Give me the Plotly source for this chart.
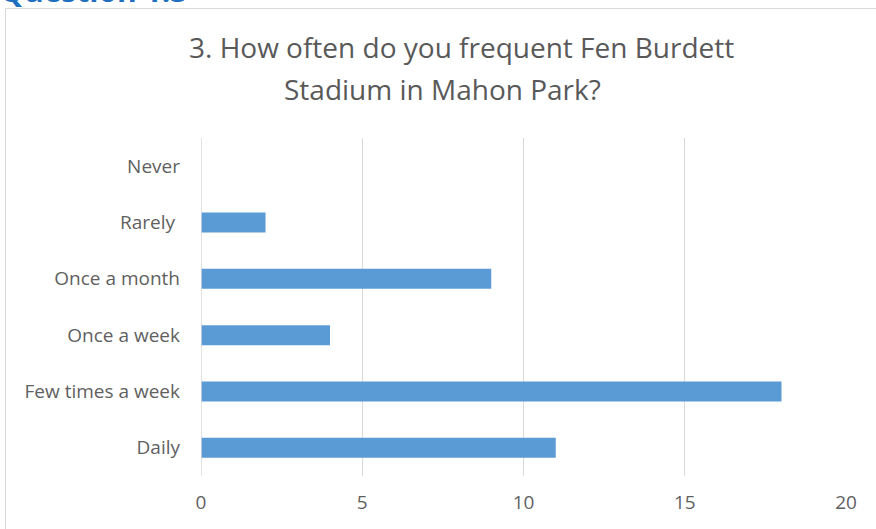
import plotly.graph_objects as go

categories = ["Daily", "Few times a week", "Once a week", "Once a month", "Rarely ", "Never"]
values = [11, 18, 4, 9, 2, 0]
tick_vals = [0, 5, 10, 15, 20]

W, H = 876, 529
L, R, T, B = 201, 30, 138, 53
pw, ph = W - L - R, H - T - B

def px_x(p):
    return (p - L) / pw

def px_y(p):
    return 1 - (p - T) / ph

fig = go.Figure(go.Bar(
    y=categories, x=values, orientation="h",
    marker=dict(color="#5B9BD5", line=dict(width=0)),
    width=0.355,
))

fig.update_layout(
    width=W, height=H,
    margin=dict(l=L, r=R, t=T, b=B, autoexpand=False),
    paper_bgcolor="white", plot_bgcolor="white",
    showlegend=False,
    font=dict(family="Open Sans", color="#595959", size=19),
    xaxis=dict(range=[0, 20], tickvals=tick_vals, showgrid=True, gridcolor="#D9D9D9",
               gridwidth=1, zeroline=False, showline=False, ticks="",
               tickfont=dict(size=19, color="#5F5F5F"), ticklabelstandoff=13, fixedrange=True),
    yaxis=dict(range=[-0.5, 5.5], showgrid=False, zeroline=False, showline=False, ticks="",
               tickfont=dict(size=19, color="#5F5F5F"), ticklabelstandoff=20, fixedrange=True),
    shapes=[
        dict(type="rect", xref="paper", yref="paper",
             x0=px_x(5.5), x1=px_x(880), y0=px_y(8.5), y1=px_y(540),
             line=dict(color="#D9D9D9", width=1), fillcolor="rgba(0,0,0,0)", layer="below"),
        dict(type="line", xref="x", yref="paper", x0=0, x1=0, y0=0, y1=1,
             line=dict(color="#D9D9D9", width=1.5)),
    ],
    annotations=[
        dict(text="3. How often do you frequent Fen Burdett", xref="paper", yref="paper",
             x=px_x(461.5), y=px_y(47), xanchor="center", yanchor="middle", showarrow=False,
             font=dict(size=28, color="#595959", family="Open Sans")),
        dict(text="Stadium in Mahon Park?", xref="paper", yref="paper",
             x=px_x(442.5), y=px_y(89), xanchor="center", yanchor="middle", showarrow=False,
             font=dict(size=28, color="#595959", family="Open Sans")),
        dict(text="<b>Question 1.3</b>", xref="paper", yref="paper",
             x=px_x(-2), y=px_y(13), xanchor="left", yanchor="bottom", showarrow=False,
             font=dict(size=30, color="#1F6FC0", family="Open Sans")),
    ],
)

fig.write_html("out.html", config={"displayModeBar": False},
               post_script="document.body.style.margin='0';document.body.style.overflow='hidden';")
